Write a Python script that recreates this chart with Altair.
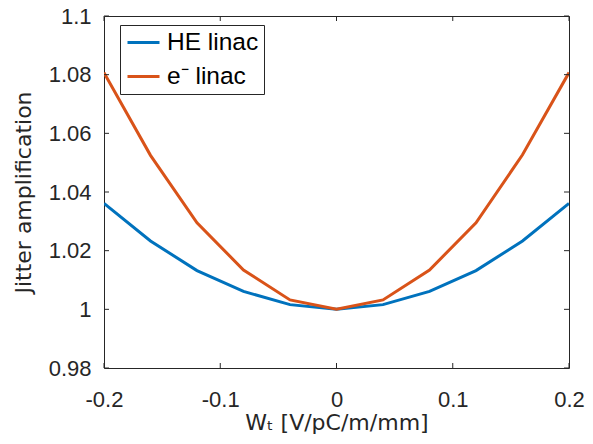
import altair as alt
import pandas as pd

# ---- data ----
x_vals = [-0.2, -0.16, -0.12, -0.08, -0.04, 0.0, 0.04, 0.08, 0.12, 0.16, 0.2]
he_linac = [1.0361, 1.0233, 1.0132, 1.0061, 1.0016, 1.0, 1.0016, 1.0061, 1.0132, 1.0233, 1.0361]
e_linac = [1.0807, 1.0525, 1.0295, 1.0134, 1.0032, 1.0, 1.0032, 1.0134, 1.0295, 1.0527, 1.0807]
series_names = ["HE linac", "e\u207b linac"]
series_colors = ["#0072BD", "#D95319"]
x_ticks = [-0.2, -0.1, 0.0, 0.1, 0.2]
y_ticks = [0.98, 1.0, 1.02, 1.04, 1.06, 1.08, 1.1]

W, H = 465, 352
AXIS_COLOR = "#262626"
TICK_FONT = "Liberation Sans"
TITLE_FONT = "DejaVu Sans"
X_TITLE = "W\u209c [V/pC/m/mm]"
Y_TITLE = "Jitter amplification"

rows = []
for name, vals in zip(series_names, [he_linac, e_linac]):
    for xv, yv in zip(x_vals, vals):
        rows.append({"x": xv, "y": yv, "series": name})
df = pd.DataFrame(rows)

xscale = alt.Scale(domain=[-0.2, 0.2], nice=False, zero=False)
yscale = alt.Scale(domain=[0.98, 1.1], nice=False, zero=False)

lines = alt.Chart(df).mark_line(strokeWidth=3, clip=True).encode(
    x=alt.X("x:Q", scale=xscale, title=X_TITLE,
            axis=alt.Axis(values=x_ticks, labelExpr="datum.value + ''", grid=False, ticks=False,
                          domain=False, labelFont=TICK_FONT, labelFontSize=22, labelColor=AXIS_COLOR,
                          labelPadding=21, titleFont=TITLE_FONT,
                          titleFontSize=22, titleFontWeight="normal", titleColor=AXIS_COLOR,
                          titlePadding=2, labelFlush=False)),
    y=alt.Y("y:Q", scale=yscale, title=Y_TITLE,
            axis=alt.Axis(values=y_ticks, labelExpr="datum.value + ''", grid=False, ticks=False,
                          domain=False, labelFont=TICK_FONT, labelFontSize=22, labelColor=AXIS_COLOR,
                          labelPadding=13, titleFont=TITLE_FONT,
                          titleFontSize=22, titleFontWeight="normal", titleColor=AXIS_COLOR,
                          titlePadding=13, labelFlush=False)),
    color=alt.Color("series:N",
                    scale=alt.Scale(domain=series_names, range=series_colors),
                    sort=series_names,
                    legend=alt.Legend(title=None, orient="none", legendX=16, legendY=9,
                                      symbolType="stroke", symbolSize=1024, symbolStrokeWidth=3,
                                      symbolOffset=1, clipHeight=25,
                                      labelFont=TICK_FONT, labelFontSize=24.5, labelColor="#000000",
                                      labelOffset=6, padding=5, rowPadding=8,
                                      strokeColor=AXIS_COLOR, fillColor="white", cornerRadius=0)),
)

xt = pd.DataFrame({"x": x_ticks})
yt = pd.DataFrame({"y": y_ticks})

x_bottom = alt.Chart(xt).mark_rule(color=AXIS_COLOR, strokeWidth=1).encode(
    x=alt.X("x:Q", scale=xscale, title=X_TITLE), y=alt.value(H), y2=alt.value(H - 5))
x_top = alt.Chart(xt).mark_rule(color=AXIS_COLOR, strokeWidth=1).encode(
    x=alt.X("x:Q", scale=xscale, title=X_TITLE), y=alt.value(0), y2=alt.value(5))
y_left = alt.Chart(yt).mark_rule(color=AXIS_COLOR, strokeWidth=1).encode(
    y=alt.Y("y:Q", scale=yscale, title=Y_TITLE), x=alt.value(0), x2=alt.value(5))
y_right = alt.Chart(yt).mark_rule(color=AXIS_COLOR, strokeWidth=1).encode(
    y=alt.Y("y:Q", scale=yscale, title=Y_TITLE), x=alt.value(W - 5), x2=alt.value(W))

chart = alt.layer(lines, x_bottom, x_top, y_left, y_right).properties(
    width=W, height=H,
    background="white",
    autosize=alt.AutoSizeParams(type="none"),
    padding={"left": 96, "top": 8, "right": 16, "bottom": 68},
).configure_view(stroke=AXIS_COLOR, strokeWidth=1)

chart.save("out.html", embed_options={"renderer": "svg", "actions": False})
